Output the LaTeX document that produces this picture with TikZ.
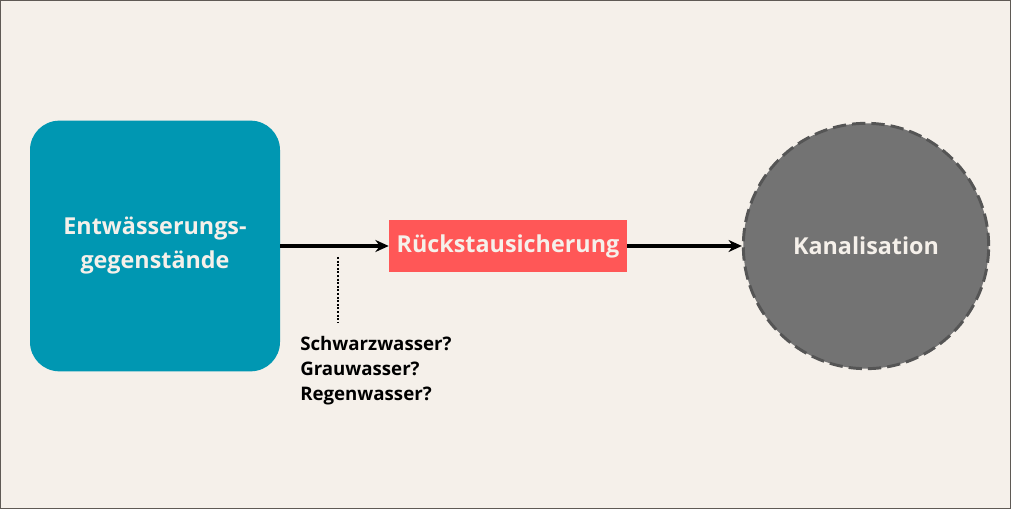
\documentclass[tikz,border=0pt]{standalone}
\usepackage{fontspec}
\setmainfont{Open Sans}
\usetikzlibrary{arrows.meta,positioning}
\definecolor{paper}{RGB}{245,240,234}
\definecolor{framegray}{RGB}{95,90,85}
\definecolor{drainteal}{RGB}{0,151,178}
\definecolor{valvered}{RGB}{255,87,87}
\definecolor{sewergray}{RGB}{115,115,115}
\definecolor{sewerrim}{RGB}{85,85,85}

\begin{document}
\begin{tikzpicture}[
    x=0.75pt, y=-0.75pt,
    boxtext/.style={text=paper, font=\bfseries\fontsize{17.5}{25.5}\selectfont, align=center},
    source/.style={boxtext, fill=drainteal, rounded corners=22pt, minimum width=187.5pt, minimum height=188pt},
    valve/.style={boxtext, fill=valvered, minimum width=178.5pt, minimum height=39pt},
    sewer/.style={boxtext, circle, fill=sewergray, draw=sewerrim, line width=2.2pt,
                  dash pattern=on 10pt off 4.5pt, minimum size=184pt},
    flow/.style={-{Stealth[length=10pt,width=9pt]}, line width=3pt},
    >=Stealth
]
% Canvas
\useasboundingbox (0,0) rectangle (1011,509);
\fill[paper] (0,0) rectangle (1011,509);
\draw[framegray, line width=1pt] (0.7,0.7) rectangle (1010.3,508.3);

% Main chain
\node[source] (fixtures) at (155,246) {Entwässerungs-\\gegenstände};
\node[valve]  (backflow) at (508,246) {Rückstausicherung};
\node[sewer]  (sewer)    at (866,246) {Kanalisation};

\draw[flow] (fixtures.east) -- (backflow.west);
\draw[flow] (backflow.east) -- (sewer.west);

% Water types
\coordinate (dtop) at (338,257);
\coordinate (dbot) at (338,323);
\draw[line width=2pt, dash pattern=on 1.5pt off 1.2pt] (dtop) -- (dbot);
\node[anchor=north west, align=left, inner sep=0pt,
      font=\bfseries\fontsize{14}{18.75}\selectfont] (types) at (300,336)
    {Schwarzwasser?\\Grauwasser?\\Regenwasser?};
\end{tikzpicture}
\end{document}
